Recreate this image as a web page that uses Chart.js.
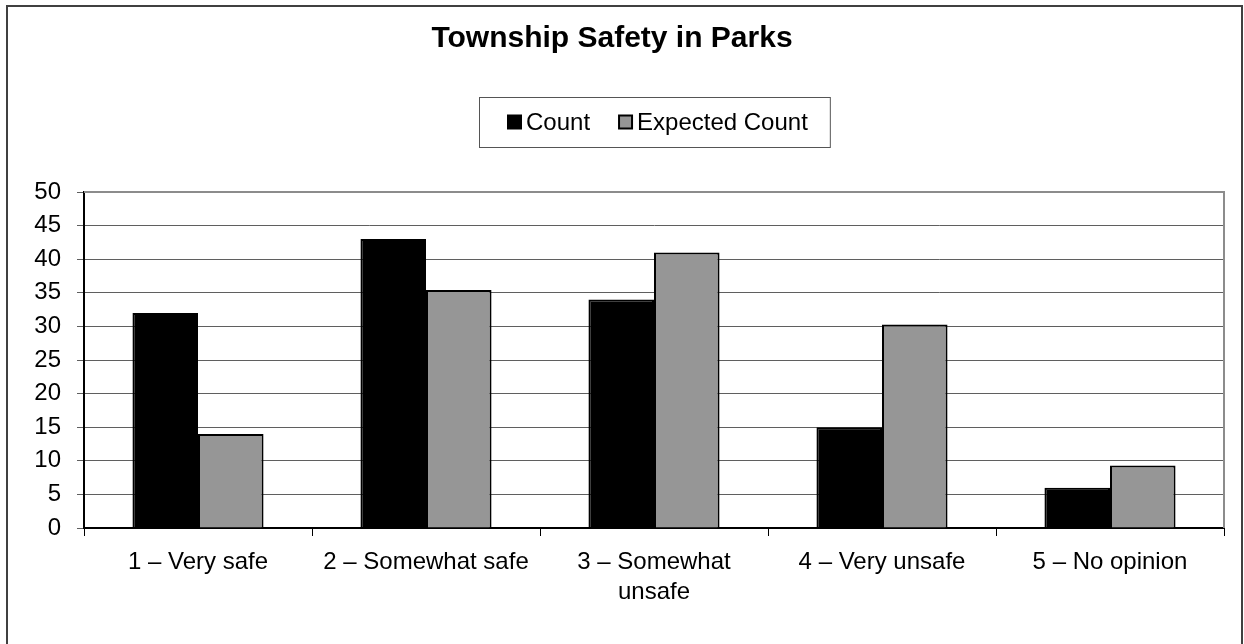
<!DOCTYPE html>
<html>
<head>
<meta charset="utf-8">
<title>Township Safety in Parks</title>
<script src="https://cdn.jsdelivr.net/npm/chart.js@4.4.0/dist/chart.umd.min.js"></script>
<style>
  html, body { margin: 0; padding: 0; background: #fff; }
  #wrap { width: 1244px; height: 644px; }
</style>
</head>
<body>
<div id="wrap"><canvas id="chart" width="1244" height="644"></canvas></div>
<script>
// data
const categories = ['1 – Very safe', '2 – Somewhat safe', ['3 – Somewhat', 'unsafe'], '4 – Very unsafe', '5 – No opinion'];
const countValues = [32, 43, 34, 15, 6];
const expectedValues = [14, 35.4, 41, 30.3, 9.3];
const yMin = 0;
const yMax = 50;
const yStep = 5;

const colors = {
  count: '#000000',
  expected: '#969696',
  grid: '#5f5f5f',
  frame: '#8c8c8c',
  outer: '#404040'
};

Chart.defaults.font.family = '"Liberation Sans", Arial, sans-serif';
Chart.defaults.color = '#000';

// white page, outer border, grey plot frame on top/right
const framePlugin = {
  id: 'frame',
  beforeDraw(chart) {
    const ctx = chart.ctx;
    ctx.save();
    ctx.fillStyle = '#fff';
    ctx.fillRect(0, 0, chart.width, chart.height);
    ctx.strokeStyle = colors.outer;
    ctx.lineWidth = 2;
    ctx.strokeRect(7, 6, chart.width - 9, chart.height + 4);
    ctx.restore();
  },
  afterDraw(chart) {
    const { ctx, chartArea: a } = chart;
    ctx.save();
    ctx.strokeStyle = colors.frame;
    ctx.lineWidth = 2;
    ctx.beginPath();
    ctx.moveTo(a.left, a.top);
    ctx.lineTo(a.right, a.top);
    ctx.lineTo(a.right, a.bottom);
    ctx.stroke();
    ctx.restore();
  }
};

// boxed legend, centred over the plot area
const boxLegend = {
  id: 'boxLegend',
  afterDraw(chart) {
    const { ctx, chartArea: a } = chart;
    const sets = chart.data.datasets;
    const sq = 15, gap = 4, itemGap = 28;
    ctx.save();
    ctx.font = '24px "Liberation Sans", Arial, sans-serif';
    ctx.textBaseline = 'middle';
    let total = 0;
    sets.forEach((d, i) => {
      total += sq + gap + ctx.measureText(d.label).width + (i ? itemGap : 0);
    });
    const boxW = total + 50;
    const boxH = 50;
    const cx = (a.left + a.right) / 2;
    const top = a.top - 95;
    const left = Math.round(cx - boxW / 2);
    ctx.strokeStyle = '#555';
    ctx.lineWidth = 1;
    ctx.strokeRect(left + 0.5, top + 0.5, boxW, boxH);
    const cy = top + boxH / 2;
    let x = left + 28;
    sets.forEach((d, i) => {
      if (i) x += itemGap;
      ctx.fillStyle = '#000';
      ctx.fillRect(x, cy - sq / 2, sq, sq);
      ctx.fillStyle = d.backgroundColor;
      ctx.fillRect(x + 2, cy - sq / 2 + 2, sq - 4, sq - 4);
      x += sq + gap;
      ctx.fillStyle = '#000';
      ctx.fillText(d.label, x, cy + 1);
      x += ctx.measureText(d.label).width;
    });
    ctx.restore();
  }
};

new Chart(document.getElementById('chart'), {
  type: 'bar',
  data: {
    labels: categories,
    datasets: [
      {
        label: 'Count',
        data: countValues,
        backgroundColor: colors.count,
        borderColor: '#000',
        borderWidth: 2,
        categoryPercentage: 0.575,
        barPercentage: 1
      },
      {
        label: 'Expected Count',
        data: expectedValues,
        backgroundColor: colors.expected,
        borderColor: '#000',
        borderWidth: 2,
        categoryPercentage: 0.575,
        barPercentage: 1
      }
    ]
  },
  options: {
    responsive: false,
    animation: false,
    devicePixelRatio: 1,
    layout: { padding: { left: 0, right: 20, top: 0, bottom: 0 } },
    plugins: {
      legend: { display: false },
      tooltip: { enabled: false },
      title: {
        display: true,
        text: 'Township Safety in Parks',
        color: '#000',
        font: { size: 30, weight: 'bold', lineHeight: 1.2 },
        padding: { top: 21, bottom: 135 }
      }
    },
    scales: {
      x: {
        grid: { display: true, drawOnChartArea: false, drawTicks: true, offset: true, tickLength: 8, color: '#000' },
        border: { color: '#000', width: 2 },
        ticks: { font: { size: 24, lineHeight: 1.25 }, color: '#000', padding: 11, maxRotation: 0, autoSkip: false },
        afterFit(scale) { scale.height = 116; }
      },
      y: {
        min: yMin,
        max: yMax,
        grid: { color: colors.grid, lineWidth: 1, tickLength: 7 },
        border: { color: '#000', width: 2 },
        ticks: { stepSize: yStep, font: { size: 24 }, color: '#000', padding: 16 },
        afterFit(scale) { scale.width = 84; }
      }
    }
  },
  plugins: [framePlugin, boxLegend]
});
</script>
</body>
</html>
